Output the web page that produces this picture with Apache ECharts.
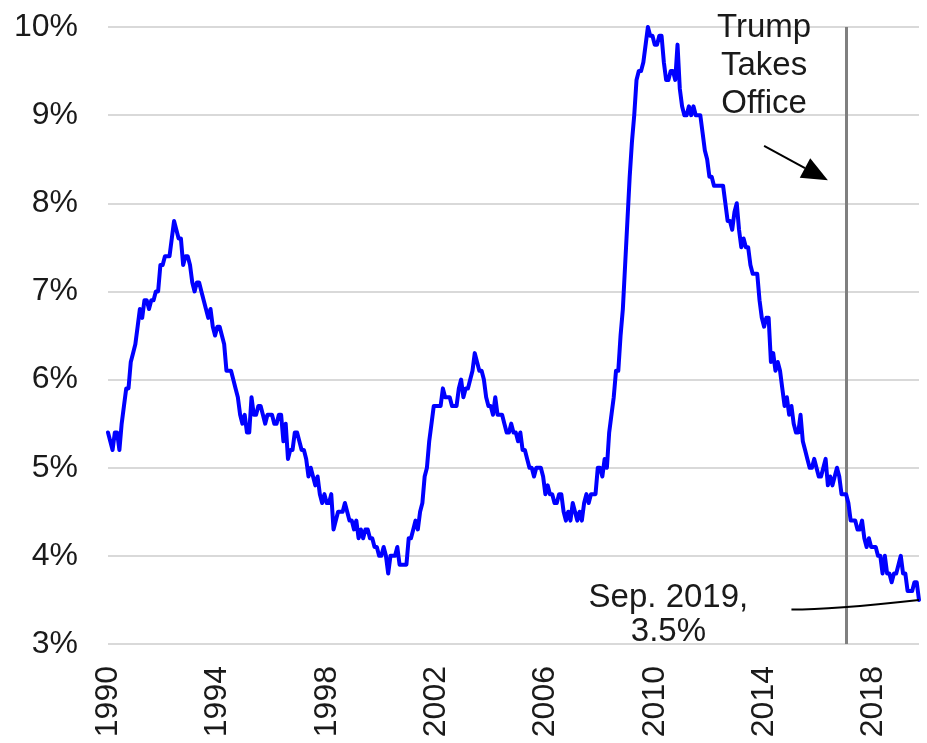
<!DOCTYPE html>
<html>
<head>
<meta charset="utf-8">
<script src="https://cdn.jsdelivr.net/npm/echarts@6/dist/echarts.min.js"></script>
<style>
  html, body { margin: 0; padding: 0; background: #fff; }
  #chart { width: 927px; height: 743px; }
</style>
</head>
<body>
<div id="chart"></div>
<script>
// US unemployment rate, monthly, seasonally adjusted (%), Jan 1990 - Sep 2019
const startYear = 1990;
const rate1990s = [
  5.4,5.3,5.2,5.4,5.4,5.2,5.5,5.7,5.9,5.9,6.2,6.3,
  6.4,6.6,6.8,6.7,6.9,6.9,6.8,6.9,6.9,7.0,7.0,7.3,
  7.3,7.4,7.4,7.4,7.6,7.8,7.7,7.6,7.6,7.3,7.4,7.4,
  7.3,7.1,7.0,7.1,7.1,7.0,6.9,6.8,6.7,6.8,6.6,6.5,
  6.6,6.6,6.5,6.4,6.1,6.1,6.1,6.0,5.9,5.8,5.6,5.5,
  5.6,5.4,5.4,5.8,5.6,5.6,5.7,5.7,5.6,5.5,5.6,5.6,
  5.6,5.5,5.5,5.6,5.6,5.3,5.5,5.1,5.2,5.2,5.4,5.4,
  5.3,5.2,5.2,5.1,4.9,5.0,4.9,4.8,4.9,4.7,4.6,4.7,
  4.6,4.6,4.7,4.3,4.4,4.5,4.5,4.5,4.6,4.5,4.4,4.4,
  4.3,4.4,4.2,4.3,4.2,4.3,4.3,4.2,4.2,4.1,4.1,4.0
];
const rate2000s = [
  4.0,4.1,4.0,3.8,4.0,4.0,4.0,4.1,3.9,3.9,3.9,3.9,
  4.2,4.2,4.3,4.4,4.3,4.5,4.6,4.9,5.0,5.3,5.5,5.7,
  5.7,5.7,5.7,5.9,5.8,5.8,5.8,5.7,5.7,5.7,5.9,6.0,
  5.8,5.9,5.9,6.0,6.1,6.3,6.2,6.1,6.1,6.0,5.8,5.7,
  5.7,5.6,5.8,5.6,5.6,5.6,5.5,5.4,5.4,5.5,5.4,5.4,
  5.3,5.4,5.2,5.2,5.1,5.0,5.0,4.9,5.0,5.0,5.0,4.9,
  4.7,4.8,4.7,4.7,4.6,4.6,4.7,4.7,4.5,4.4,4.5,4.4,
  4.6,4.5,4.4,4.5,4.4,4.6,4.7,4.6,4.7,4.7,4.7,5.0,
  5.0,4.9,5.1,5.0,5.4,5.6,5.8,6.1,6.1,6.5,6.8,7.3,
  7.8,8.3,8.7,9.0,9.4,9.5,9.5,9.6,9.8,10.0,9.9,9.9
];
const rate2010s = [
  9.8,9.8,9.9,9.9,9.6,9.4,9.4,9.5,9.5,9.4,9.8,9.3,
  9.1,9.0,9.0,9.1,9.0,9.1,9.0,9.0,9.0,8.8,8.6,8.5,
  8.3,8.3,8.2,8.2,8.2,8.2,8.2,8.0,7.8,7.8,7.7,7.9,
  8.0,7.7,7.5,7.6,7.5,7.5,7.3,7.2,7.2,7.2,6.9,6.7,
  6.6,6.7,6.7,6.2,6.3,6.1,6.2,6.1,5.9,5.7,5.8,5.6,
  5.7,5.5,5.4,5.4,5.6,5.3,5.2,5.1,5.0,5.0,5.1,5.0,
  4.9,4.9,5.0,5.1,4.8,4.9,4.8,4.9,5.0,4.9,4.7,4.7,
  4.7,4.6,4.4,4.4,4.4,4.3,4.3,4.4,4.2,4.1,4.2,4.1,
  4.1,4.1,4.0,4.0,3.8,4.0,3.8,3.8,3.7,3.8,3.8,3.9,
  4.0,3.8,3.8,3.6,3.6,3.6,3.7,3.7,3.5
];
const yTicks = [3, 4, 5, 6, 7, 8, 9, 10];
const inaugurationMonth = '2017-01';
const officeLabel = 'Trump\nTakes\nOffice';
const latestLabel = 'Sep. 2019,\n3.5%';

const rates = rate1990s.concat(rate2000s, rate2010s);
const months = rates.map((_, i) => {
  const y = startYear + Math.floor(i / 12);
  const m = (i % 12) + 1;
  return y + '-' + (m < 10 ? '0' + m : m);
});
const lastIndex = rates.length - 1;

const FONT = '"Liberation Sans", Arial, sans-serif';
const TEXT = '#1a1a1a';

const chart = echarts.init(document.getElementById('chart'), null, { renderer: 'canvas' });

chart.setOption({
  animation: false,
  backgroundColor: '#ffffff',
  grid: { left: 108, right: 8, top: 27, bottom: 99 },
  xAxis: {
    type: 'category',
    data: months,
    boundaryGap: false,
    axisLine: { show: false },
    axisTick: { show: false },
    splitLine: { show: false },
    axisLabel: {
      interval: (idx) => idx % 48 === 0,
      formatter: (v) => v.slice(0, 4),
      rotate: 90,
      margin: 22,
      fontFamily: FONT,
      fontSize: 32,
      color: TEXT
    }
  },
  yAxis: {
    type: 'value',
    min: yTicks[0],
    max: yTicks[yTicks.length - 1],
    interval: 1,
    axisLine: { show: false },
    axisTick: { show: false },
    splitLine: { lineStyle: { color: '#d9d9d9', width: 2 } },
    axisLabel: {
      formatter: '{value}%',
      margin: 30,
      fontFamily: FONT,
      fontSize: 32,
      color: TEXT
    }
  },
  series: [{
    type: 'line',
    data: rates,
    showSymbol: false,
    lineStyle: { color: '#0000ff', width: 4, join: 'round', cap: 'round' },
    z: 3,
    markLine: {
      silent: true,
      symbol: 'none',
      label: { show: false },
      lineStyle: { color: '#808080', width: 3, type: 'solid' },
      data: [{ xAxis: inaugurationMonth }],
      z: 2
    }
  }]
});

// Annotations placed in data coordinates
function px(month, value) {
  return chart.convertToPixel({ gridIndex: 0 }, [month, value]);
}
const officeText = px('2014-01', 10.2);
const arrowStart = px('2014-01', 8.65);
const arrowTip = px('2016-05', 8.26);
const latestText = px('2010-07', 3.715);
const leadStart = px('2015-01', 3.39);
const leadEnd = px(months[lastIndex], rates[lastIndex]);

// arrowhead geometry
const dx = arrowTip[0] - arrowStart[0], dy = arrowTip[1] - arrowStart[1];
const len = Math.sqrt(dx * dx + dy * dy);
const ux = dx / len, uy = dy / len;
const headLen = 26, headHalf = 11;
const baseX = arrowTip[0] - ux * headLen, baseY = arrowTip[1] - uy * headLen;

chart.setOption({
  graphic: [
    {
      type: 'text',
      style: {
        text: officeLabel, fill: TEXT, font: '33px ' + FONT,
        textAlign: 'center', textVerticalAlign: 'top', lineHeight: 38
      },
      position: [officeText[0], officeText[1]], z: 10
    },
    {
      type: 'line',
      shape: { x1: arrowStart[0], y1: arrowStart[1], x2: baseX, y2: baseY },
      style: { stroke: '#000', lineWidth: 2 }, z: 10
    },
    {
      type: 'polygon',
      shape: { points: [
        [arrowTip[0], arrowTip[1]],
        [baseX - uy * headHalf, baseY + ux * headHalf],
        [baseX + uy * headHalf, baseY - ux * headHalf]
      ] },
      style: { fill: '#000' }, z: 10
    },
    {
      type: 'text',
      style: {
        text: latestLabel, fill: TEXT, font: '33px ' + FONT,
        textAlign: 'center', textVerticalAlign: 'top', lineHeight: 34
      },
      position: [latestText[0], latestText[1]], z: 10
    },
    {
      type: 'bezierCurve',
      shape: {
        x1: leadStart[0], y1: leadStart[1],
        cpx1: leadStart[0] + 40, cpy1: leadStart[1],
        x2: leadEnd[0], y2: leadEnd[1]
      },
      style: { stroke: '#000', lineWidth: 2, fill: 'none' }, z: 10
    }
  ]
});
</script>
</body>
</html>
